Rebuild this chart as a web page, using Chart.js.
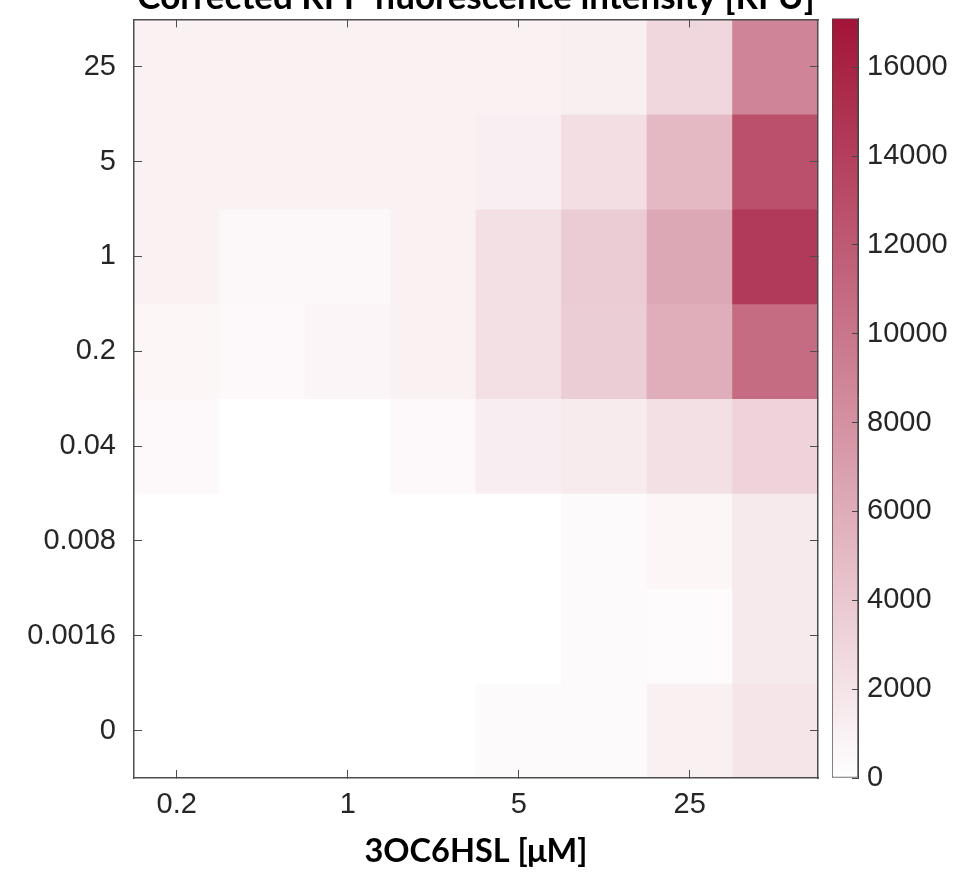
<!DOCTYPE html>
<html><head><meta charset="utf-8">
<script src="https://cdn.jsdelivr.net/npm/chart.js@4.4.1/dist/chart.umd.min.js"></script>
<style>
html,body{margin:0;padding:0;background:#fff;overflow:hidden;width:954px;height:879px;position:relative}
#main{position:absolute;left:0;top:-24px;}
#cbar{position:absolute;left:820px;top:-14px;}
</style></head><body>
<canvas id="main" width="954" height="903"></canvas>
<canvas id="cbar" width="134" height="893"></canvas>
<script>
// ---- data ----
const xLabels = ['0.2', '', '1', '', '5', '', '25', ''];          // 3OC6HSL [µM] columns
const yLabels = ['25', '5', '1', '0.2', '0.04', '0.008', '0.0016', '0']; // rows, top to bottom
const row25     = [1000, 1000, 1000, 1000, 1000, 1200, 2900, 8900];
const row5      = [1000, 1000, 1000, 1000, 1150, 2400, 5100, 12700];
const row1      = [1000, 580, 580, 1000, 2250, 3700, 6300, 14300];
const row0_2    = [650, 440, 730, 1000, 2250, 3650, 5900, 10700];
const row0_04   = [440, 0, 0, 440, 1240, 1450, 2250, 3200];
const row0_008  = [0, 0, 0, 0, 0, 360, 650, 1530];
const row0_0016 = [0, 0, 0, 0, 0, 360, 290, 1530];
const row0      = [0, 0, 0, 0, 360, 360, 1090, 1900];
const rows = [row25, row5, row1, row0_2, row0_04, row0_008, row0_0016, row0];
const colorMax = 17100;
const colorbarTicks = [0, 2000, 4000, 6000, 8000, 10000, 12000, 14000, 16000];
const lowRGB = [255, 255, 255];
const highRGB = [163, 20, 56];

function colorFor(v) {
  const t = Math.max(0, Math.min(1, v / colorMax));
  const c = lowRGB.map((lo, i) => Math.round(lo + (highRGB[i] - lo) * t));
  return `rgb(${c[0]},${c[1]},${c[2]})`;
}

const tickFont = {family: '"Liberation Sans", Arial, Helvetica, sans-serif', size: 29};
const tickColor = '#262626';
const axisColor = '#4d4d4d';
const titleFont = {family: 'Lato, "Open Sans", sans-serif', size: 35, weight: 'bold', lineHeight: 1};
const xTitleFont = {family: 'Lato, "Open Sans", sans-serif', size: 32.5, weight: 'bold', lineHeight: 1};

const filterX = s => { s.ticks = s.ticks.filter(t => xLabels[t.value] !== ''); };
const setY = s => { s.ticks = yLabels.map((_, i) => ({value: i})); };
const gridOpts = {offset: false, drawOnChartArea: false, tickLength: -8, color: axisColor, lineWidth: 1, z: 1};
const borderOpts = {display: true, color: axisColor, width: 1.5, z: 1};

new Chart(document.getElementById('main'), {
  type: 'bar',
  data: {
    labels: xLabels,
    datasets: rows.map((vals, r) => ({
      label: yLabels[r],
      data: vals.map(() => [r - 0.5, r + 0.5]),
      backgroundColor: vals.map(colorFor),
      borderWidth: 0,
      barPercentage: 1,
      categoryPercentage: 1,
      grouped: false
    }))
  },
  options: {
    responsive: false,
    animation: false,
    layout: {padding: {left: 0, right: 136, top: 0, bottom: 0}},
    plugins: {
      legend: {display: false},
      tooltip: {enabled: false},
      title: {
        display: true,
        fullSize: false,
        text: 'Corrected RFP fluorescence intensity [RFU]',
        color: '#000',
        font: titleFont,
        padding: {top: 3, bottom: 4}
      }
    },
    scales: {
      x: {
        type: 'category', position: 'bottom', offset: true,
        grid: gridOpts,
        border: borderOpts,
        ticks: {font: tickFont, color: tickColor, padding: 18, maxRotation: 0, autoSkip: false},
        afterBuildTicks: filterX,
        afterFit: s => { s.height = 101; },
        title: {display: true, text: '3OC6HSL [μM]', color: '#000', font: xTitleFont, padding: {top: 0, bottom: 11}}
      },
      x2: {
        type: 'category', position: 'top', offset: true,
        grid: gridOpts,
        border: borderOpts,
        ticks: {display: false},
        afterBuildTicks: filterX,
        afterFit: s => { s.height = 0; }
      },
      y: {
        type: 'linear', position: 'left', min: -0.5, max: 7.5, reverse: true,
        afterBuildTicks: setY,
        grid: gridOpts,
        border: borderOpts,
        ticks: {font: tickFont, color: tickColor, padding: 26, callback: v => yLabels[v]},
        afterFit: s => { s.width = 134; }
      },
      y2: {
        type: 'linear', position: 'right', min: -0.5, max: 7.5, reverse: true,
        afterBuildTicks: setY,
        grid: gridOpts,
        border: borderOpts,
        ticks: {display: false},
        afterFit: s => { s.width = 0; }
      }
    }
  }
});

new Chart(document.getElementById('cbar'), {
  type: 'bar',
  data: {
    labels: [''],
    datasets: [{
      data: [[0, colorMax]],
      backgroundColor: ctx => {
        const ch = ctx.chart; const a = ch.chartArea;
        if (!a) return colorFor(colorMax / 2);
        const g = ch.ctx.createLinearGradient(0, a.bottom, 0, a.top);
        g.addColorStop(0, colorFor(0));
        g.addColorStop(1, colorFor(colorMax));
        return g;
      },
      borderColor: '#444',
      borderWidth: 1,
      borderSkipped: false,
      barPercentage: 1,
      categoryPercentage: 1
    }]
  },
  options: {
    responsive: false,
    animation: false,
    layout: {padding: {left: 12, right: 0, top: 0, bottom: 101}},
    plugins: {legend: {display: false}, tooltip: {enabled: false}},
    scales: {
      x: {display: false, offset: true},
      y: {
        type: 'linear', position: 'right', min: 0, max: colorMax,
        afterBuildTicks: s => { s.ticks = colorbarTicks.map(v => ({value: v})); },
        grid: {drawOnChartArea: false, tickLength: -6, color: '#444', lineWidth: 1, z: 1},
        border: {display: true, color: '#444', width: 1, z: 1},
        ticks: {font: tickFont, color: tickColor, padding: 15, callback: v => String(v)},
        afterFit: s => { s.width = 96; }
      }
    }
  }
});
</script>
</body></html>
